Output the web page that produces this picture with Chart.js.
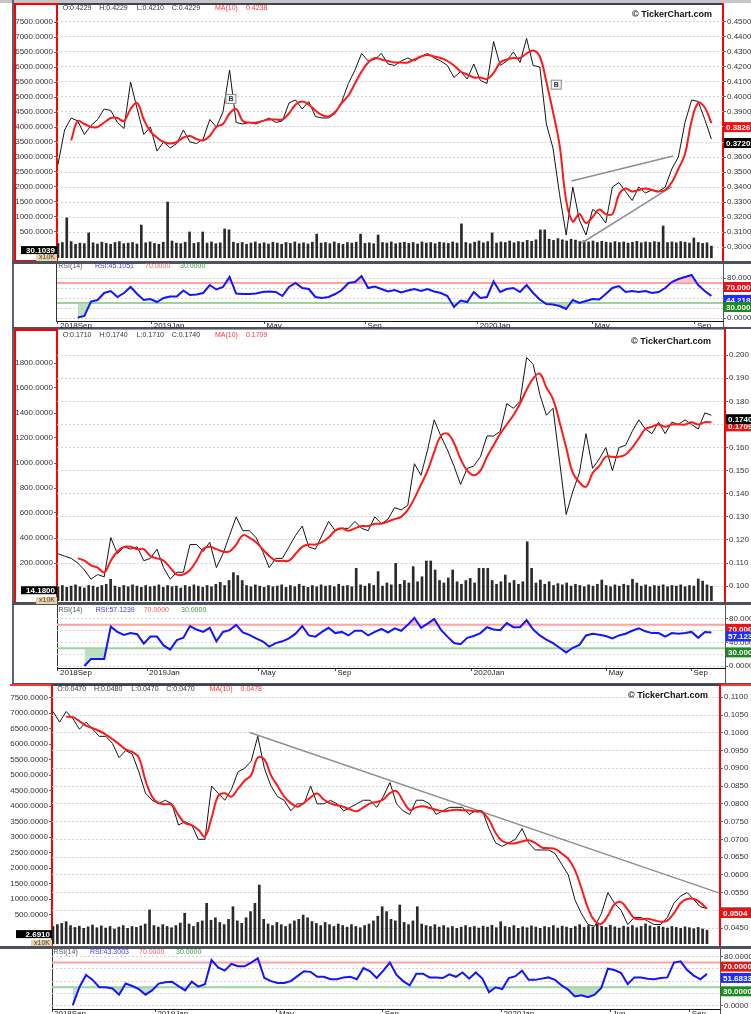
<!DOCTYPE html>
<html>
<head>
<meta charset="utf-8">
<script src="https://cdn.jsdelivr.net/npm/chart.js@4.4.1/dist/chart.umd.min.js"></script>
<style>
  body { margin: 0; background: #fff; }
  #wrap { position: relative; width: 751px; height: 1014px; overflow: hidden; background: #fff; }
  #wrap canvas { position: absolute; left: 0; }
  .ln { position: absolute; box-sizing: border-box; }
</style>
</head>
<body>
<div id="wrap">
  <!-- block 1 frame -->
  <div class="ln" style="left:0;top:0;width:751px;height:3px;background:#c5c5c5"></div>
  <div class="ln" style="left:12px;top:0;width:2px;height:329px;background:#5d6371"></div>
  <div class="ln" style="left:14px;top:3px;width:44px;height:259px;border:2px solid #f00"></div>
  <div class="ln" style="left:58px;top:3px;width:664px;height:2px;background:#3e4453"></div>
  <div class="ln" style="left:722px;top:3px;width:2px;height:259px;background:#f00"></div>
  <div class="ln" style="left:12px;top:261px;width:739px;height:3px;background:#4d5261"></div>
  <div class="ln" style="left:56px;top:264px;width:1px;height:58px;background:#333"></div>
  <div class="ln" style="left:723px;top:264px;width:1px;height:63px;background:#555"></div>
  <div class="ln" style="left:12px;top:327px;width:739px;height:2px;background:#4d5261"></div>
  <!-- block 2 frame -->
  <div class="ln" style="left:14px;top:329px;width:44px;height:275px;border:2px solid #f00"></div>
  <div class="ln" style="left:58px;top:329px;width:666px;height:1px;background:#9a9ea8"></div>
  <div class="ln" style="left:12px;top:329px;width:2px;height:355px;background:#5d6371"></div>
  <div class="ln" style="left:724px;top:329px;width:2px;height:275px;background:#f00"></div>
  <div class="ln" style="left:12px;top:602px;width:739px;height:3px;background:#4d5261"></div>
  <div class="ln" style="left:57px;top:605px;width:1px;height:63px;background:#333"></div>
  <div class="ln" style="left:725px;top:605px;width:1px;height:78px;background:#555"></div>
  <div class="ln" style="left:12px;top:683px;width:739px;height:2px;background:#4d5261"></div>
  <!-- block 3 frame -->
  <div class="ln" style="left:10px;top:684px;width:42px;height:2px;background:#f33"></div>
  <div class="ln" style="left:52px;top:684px;width:668px;height:2px;background:#3e4453"></div>
  <div class="ln" style="left:720px;top:684px;width:31px;height:2px;background:#f33"></div>
  <div class="ln" style="left:51px;top:684px;width:2px;height:262px;background:#f00"></div>
  <div class="ln" style="left:719px;top:684px;width:2px;height:262px;background:#f00"></div>
  <div class="ln" style="left:0;top:946px;width:751px;height:3px;background:#4d5261"></div>
  <div class="ln" style="left:52px;top:949px;width:1px;height:60px;background:#333"></div>
  <div class="ln" style="left:720px;top:949px;width:1px;height:65px;background:#555"></div>

  <canvas id="c1m" width="751" height="262" style="top:0px"></canvas>
  <canvas id="c1r" width="751" height="67" style="top:262px"></canvas>
  <canvas id="c2m" width="751" height="275" style="top:329px"></canvas>
  <canvas id="c2r" width="751" height="80" style="top:604px"></canvas>
  <canvas id="c3m" width="751" height="262" style="top:684px"></canvas>
  <canvas id="c3r" width="751" height="68" style="top:946px"></canvas>
</div>
<script>
// ---- stock 1 (top) ----
const price1 = [0.355,0.378,0.386,0.384,0.375,0.381,0.385,0.392,0.391,0.383,
  0.379,0.410,0.392,0.375,0.380,0.364,0.370,0.366,0.369,0.378,
  0.370,0.369,0.372,0.385,0.380,0.390,0.418,0.383,0.382,0.383,
  0.382,0.384,0.386,0.383,0.384,0.396,0.398,0.392,0.397,0.387,
  0.386,0.386,0.389,0.397,0.409,0.418,0.429,0.424,0.425,0.429,
  0.422,0.421,0.424,0.426,0.424,0.427,0.429,0.426,0.424,0.421,
  0.413,0.417,0.412,0.422,0.411,0.409,0.437,0.421,0.424,0.430,
  0.423,0.439,0.421,0.420,0.382,0.366,0.335,0.308,0.340,0.318,
  0.308,0.325,0.322,0.316,0.340,0.343,0.337,0.331,0.340,0.336,
  0.338,0.337,0.340,0.352,0.360,0.383,0.398,0.397,0.385,0.372];
const ma1 = [null,null,0.371,0.384,0.382,0.380,0.380,0.383,0.386,0.386,
  0.384,0.392,0.396,0.385,0.377,0.373,0.370,0.369,0.370,0.373,
  0.374,0.372,0.371,0.374,0.380,0.382,0.389,0.392,0.384,0.383,
  0.383,0.384,0.385,0.385,0.385,0.389,0.395,0.397,0.395,0.391,
  0.388,0.387,0.390,0.396,0.401,0.409,0.417,0.423,0.426,0.425,
  0.424,0.423,0.423,0.423,0.425,0.427,0.428,0.427,0.426,0.424,
  0.421,0.417,0.415,0.413,0.413,0.412,0.416,0.423,0.425,0.426,
  0.426,0.429,0.431,0.427,0.410,0.390,0.368,0.331,0.317,0.322,
  0.316,0.320,0.325,0.322,0.322,0.335,0.339,0.337,0.338,0.339,
  0.338,0.337,0.338,0.343,0.352,0.362,0.384,0.396,0.393,0.3826];
const rsi1 = [null,null,null,1,4,33,36,50,54,42,
  50,62,48,36,38,32,40,43,43,55,
  46,47,50,66,57,62,82,49,48,48,
  49,52,53,52,44,62,70,60,58,42,
  40,42,48,56,70,72,84,60,63,58,
  53,56,51,55,58,54,58,53,50,44,
  22,35,32,52,40,42,73,52,58,60,
  52,66,50,37,28,27,24,18,36,30,
  34,38,37,48,60,64,52,54,52,54,
  50,52,60,72,78,82,86,66,54,44.2];
const vol1 = [120,150,970,180,90,130,110,470,140,100,
  160,120,90,150,180,110,130,150,100,730,
  140,170,120,90,160,1500,200,130,110,160,
  500,120,150,500,130,170,110,140,600,570,
  160,120,150,90,130,170,110,140,100,160,
  130,90,150,120,170,110,140,100,160,430,
  130,150,110,170,120,90,150,130,160,430,
  120,140,110,400,150,130,170,110,140,160,
  120,150,100,170,130,150,110,160,140,120,
  170,130,770,150,110,160,200,140,180,470,
  130,170,150,200,140,180,160,220,190,240,
  570,570,260,220,280,240,200,260,230,180,
  210,170,200,150,190,160,140,180,150,170,
  130,160,190,140,170,150,180,160,700,150,
  170,140,180,160,130,300,150,120,140,30.1];
const months1 = ['2018Sep','2019Jan','May','Sep','2020Jan','May','Sep'];
const monthPos1 = [0, 14.2, 31.3, 46.6, 63.6, 81.0, 96.5];
const volTicks1 = [500,1000,1500,2000,2500,3000,3500,4000,4500,5000,5500,6000,6500,7000,7500];
const priceTicks1 = [0.30,0.31,0.32,0.33,0.34,0.35,0.36,0.37,0.38,0.39,0.40,0.41,0.42,0.43,0.44,0.45];
const trendUp1 = [[77.8,0.344],[93.2,0.3607]];
const trendLow1 = [[79.3,0.3025],[93.0,0.3403]];
const buys1 = [[26.2,0.3987],[75.5,0.4082]];

// ---- stock 2 (middle) ----
const price2 = [0.114,0.113,0.112,0.110,0.107,0.103,0.105,0.104,0.121,0.114,
  0.117,0.116,0.117,0.111,0.112,0.116,0.108,0.103,0.106,0.106,
  0.118,0.118,0.115,0.119,0.108,0.114,0.122,0.130,0.124,0.124,
  0.121,0.115,0.108,0.112,0.112,0.117,0.122,0.126,0.117,0.116,
  0.122,0.128,0.124,0.125,0.125,0.128,0.125,0.124,0.130,0.127,
  0.129,0.134,0.133,0.135,0.153,0.148,0.159,0.172,0.165,0.159,
  0.152,0.144,0.151,0.152,0.156,0.165,0.165,0.167,0.179,0.177,
  0.180,0.199,0.196,0.183,0.174,0.177,0.154,0.131,0.141,0.149,
  0.166,0.151,0.155,0.160,0.150,0.160,0.161,0.167,0.172,0.168,
  0.166,0.171,0.166,0.171,0.170,0.172,0.170,0.168,0.175,0.174];
const ma2 = [null,null,null,0.112,0.111,0.109,0.108,0.106,0.111,0.115,
  0.117,0.117,0.116,0.116,0.113,0.112,0.111,0.108,0.105,0.105,
  0.107,0.111,0.116,0.117,0.116,0.115,0.115,0.118,0.122,0.121,
  0.119,0.116,0.113,0.111,0.111,0.111,0.114,0.117,0.118,0.118,
  0.119,0.121,0.124,0.125,0.124,0.125,0.126,0.126,0.127,0.127,
  0.128,0.129,0.130,0.133,0.138,0.144,0.150,0.158,0.165,0.166,
  0.162,0.155,0.150,0.148,0.150,0.156,0.161,0.166,0.170,0.174,
  0.179,0.185,0.190,0.192,0.186,0.181,0.171,0.160,0.149,0.145,
  0.143,0.149,0.152,0.156,0.156,0.156,0.157,0.160,0.164,0.168,
  0.169,0.170,0.169,0.170,0.170,0.170,0.171,0.170,0.171,0.1709];
const rsi2 = [null,null,null,null,0,12,12,12,67,58,
  53,56,54,38,50,50,35,28,44,48,
  68,62,58,65,42,58,61,70,57,53,
  47,42,33,39,42,47,55,68,52,50,
  58,65,56,58,52,60,60,52,58,63,
  57,64,60,70,82,65,72,80,62,50,
  39,37,48,51,56,66,62,61,73,66,
  66,78,62,52,45,39,31,23,31,36,
  52,55,53,51,47,52,55,60,64,59,
  56,56,50,56,55,56,58,48,58,57.1];
const vol2 = [10,20,5,15,25,10,0,20,15,5,
  20,30,70,15,5,20,10,25,15,5,
  20,10,15,25,5,20,10,15,0,20,
  10,25,15,5,20,10,30,45,20,60,
  123,100,60,20,10,25,15,5,20,10,
  15,25,5,20,10,30,15,5,20,10,
  25,15,20,10,30,15,20,10,157,25,
  15,35,20,131,15,40,25,197,30,60,
  40,171,50,90,216,216,144,60,40,80,
  144,50,30,60,77,40,157,157,157,60,
  30,50,104,40,60,30,50,370,157,40,
  64,30,50,20,35,25,40,15,30,20,
  10,25,15,30,64,20,10,25,15,30,
  20,70,40,15,25,10,20,15,25,10,
  20,15,25,10,20,15,72,55,25,14.18];
const months2 = ['2018Sep','2019Jan','May','Sep','2020Jan','May','Sep'];
const monthPos2 = [0, 13.5, 30.4, 42.0, 62.7, 83.1, 96.0];
const volTicks2 = [200,400,600,800,1000,1200,1400,1600,1800];
const priceTicks2 = [0.10,0.11,0.12,0.13,0.14,0.15,0.16,0.17,0.18,0.19,0.20];

// ---- stock 3 (bottom) ----
const price3 = [0.106,0.103,0.106,0.104,0.101,0.103,0.101,0.099,0.099,0.097,
  0.093,0.095,0.094,0.089,0.083,0.081,0.080,0.081,0.080,0.074,
  0.075,0.074,0.070,0.070,0.085,0.083,0.081,0.084,0.089,0.090,
  0.092,0.099,0.090,0.085,0.082,0.081,0.078,0.080,0.080,0.085,
  0.080,0.080,0.081,0.080,0.078,0.079,0.080,0.081,0.081,0.079,
  0.082,0.086,0.080,0.078,0.077,0.081,0.081,0.080,0.077,0.078,
  0.079,0.079,0.079,0.077,0.078,0.078,0.073,0.069,0.068,0.069,
  0.070,0.073,0.069,0.067,0.067,0.067,0.066,0.063,0.060,0.053,
  0.049,0.046,0.0455,0.049,0.055,0.052,0.050,0.046,0.048,0.048,
  0.047,0.046,0.046,0.048,0.052,0.054,0.055,0.053,0.051,0.0505];
const ma3 = [null,null,0.1045,0.1044,0.1033,0.1020,0.1013,0.1005,0.0995,0.0982,
  0.0968,0.0953,0.0946,0.0930,0.0866,0.0820,0.0802,0.0799,0.0797,0.0768,
  0.0745,0.0740,0.0727,0.0708,0.0760,0.0822,0.0830,0.0820,0.0842,0.0865,
  0.0881,0.0930,0.0925,0.0880,0.0850,0.0820,0.0802,0.0792,0.0803,0.0818,
  0.0829,0.0812,0.0801,0.0796,0.0791,0.0784,0.0779,0.0790,0.0801,0.0805,
  0.0812,0.0830,0.0836,0.0808,0.0783,0.0790,0.0793,0.0788,0.0783,0.0779,
  0.0781,0.0783,0.0782,0.0781,0.0778,0.0776,0.0755,0.0718,0.0695,0.0689,
  0.0689,0.0694,0.0697,0.0690,0.0677,0.0675,0.0673,0.0660,0.0645,0.0614,
  0.0562,0.0505,0.0470,0.0462,0.0485,0.0517,0.0523,0.0502,0.0478,0.0475,
  0.0476,0.0472,0.0468,0.0471,0.0492,0.0520,0.0532,0.0532,0.0522,0.0504];
const rsi3 = [null,null,null,1,30,50,42,30,30,28,
  18,36,32,27,18,25,36,38,39,32,
  25,39,31,35,74,62,57,68,64,64,
  70,77,45,40,37,37,40,48,56,55,
  47,47,43,43,46,47,43,61,56,45,
  57,70,50,40,33,52,52,46,46,45,
  51,47,54,44,54,44,22,30,27,45,
  48,57,42,42,44,46,42,33,26,15,
  17,14,18,29,60,58,53,35,46,46,
  44,43,45,46,70,72,58,49,43,51.7];
const vol3 = [120,180,220,274,150,90,130,60,110,168,
  80,140,70,120,40,100,150,60,120,90,
  140,200,652,150,100,180,120,80,150,230,
  545,200,120,250,300,868,320,400,250,180,
  350,758,300,220,400,600,868,1458,350,200,
  150,250,180,120,200,300,350,490,400,280,
  220,150,250,180,120,200,150,100,180,120,
  80,150,200,300,450,758,600,350,300,813,
  250,180,300,758,200,150,120,180,100,150,
  80,120,60,100,150,90,120,70,130,100,
  160,80,274,120,90,150,60,110,80,140,
  100,60,120,90,150,70,130,100,60,120,
  180,90,150,100,200,130,90,160,110,70,
  130,100,150,80,120,200,140,90,130,100,
  70,120,90,60,110,80,50,90,40,2.69];
const months3 = ['2018Sep','2019Jan','May','Sep','2020Jan','Jun','Sep'];
const monthPos3 = [-0.15, 15.5, 33.9, 49.9, 67.9, 84.4, 96.4];
const volTicks3 = [500,1000,1500,2000,2500,3000,3500,4000,4500,5000,5500,6000,6500,7000,7500];
const priceTicks3 = [0.045,0.050,0.055,0.060,0.065,0.070,0.075,0.080,0.085,0.090,0.095,0.100,0.105,0.110];
const trend3 = [[29.8,0.1001],[100.8,0.0549]];

const rsiTicks = [0,20,40,60,80];
const rsiUpper = 70, rsiLower = 30;

const FONT = '"Liberation Sans", Arial, sans-serif';
Chart.defaults.font.family = FONT;
Chart.defaults.font.size = 8;
Chart.defaults.color = '#222';

const pts = (arr, step = 1) => arr.map((v, i) => ({x: i * step, y: v}));
const fixed = n => v => Number(v).toFixed(n);

// overlay texts, value tags and signal boxes
const deco = {
  id: 'deco',
  afterDraw(chart, args, o) {
    const ctx = chart.ctx, a = chart.chartArea, sc = chart.scales;
    ctx.save();
    ctx.textBaseline = 'middle';
    (o.texts || []).forEach(t => {
      ctx.font = t.font || ('7px ' + FONT);
      ctx.fillStyle = t.color || '#333';
      ctx.textAlign = t.align || 'left';
      ctx.fillText(t.text, t.x, t.y);
    });
    (o.marks || []).forEach(m => {
      const x = sc.x.getPixelForValue(m[0]), y = sc.yp.getPixelForValue(m[1]);
      ctx.fillStyle = '#f2f2f2'; ctx.fillRect(x - 5, y - 4.5, 10, 9);
      ctx.strokeStyle = '#8c8c8c'; ctx.lineWidth = 1; ctx.strokeRect(x - 5, y - 4.5, 10, 9);
      ctx.fillStyle = '#333'; ctx.font = 'bold 7px ' + FONT; ctx.textAlign = 'center';
      ctx.fillText('B', x, y + 0.5);
    });
    ctx.font = 'bold 8px ' + FONT; ctx.textAlign = 'left';
    (o.tags || []).forEach(t => {
      const y = sc[t.axis].getPixelForValue(t.value);
      ctx.fillStyle = t.bg; ctx.fillRect(a.right + 1, y - 1, 40, 10);
      ctx.fillStyle = '#fff'; ctx.fillText(t.text, a.right + 3, y + 4.5);
    });
    if (o.vol) {
      const y = sc.yv.getPixelForValue(o.vol.value);
      ctx.fillStyle = '#000'; ctx.fillRect(a.left - 36, y, 36, 8);
      ctx.fillStyle = '#fff'; ctx.textAlign = 'right'; ctx.fillText(o.vol.text, a.left - 2, y + 4.5);
      ctx.fillStyle = '#e9d3a6'; ctx.fillRect(a.left - 21, a.bottom - 4, 21, 7);
      ctx.fillStyle = '#444'; ctx.font = '7px ' + FONT; ctx.fillText('x10K', a.left - 2, a.bottom - 0.5);
    }
    ctx.restore();
  }
};

function header(x0, y, o, h, l, c, ma) {
  return [
    {text: 'O:' + o, x: x0, y: y}, {text: 'H:' + h, x: x0 + 36.6, y: y},
    {text: 'L:' + l, x: x0 + 74, y: y}, {text: 'C:' + c, x: x0 + 109, y: y},
    {text: 'MA(10)', x: x0 + 152.3, y: y, color: '#f33'}, {text: ma, x: x0 + 183.3, y: y, color: '#f33'}
  ];
}

function makeMain(id, g, price, ma, vol, o) {
  const vstep = (price.length - 1) / (vol.length - 1);
  const datasets = [
    {data: pts(ma), borderColor: '#ff1a1a', borderWidth: 2, pointRadius: 0, tension: 0.4, yAxisID: 'yp'},
    {data: pts(price), borderColor: '#151515', borderWidth: 1, pointRadius: 0, yAxisID: 'yp'}
  ];
  (o.trends || []).forEach(t => datasets.push({
    data: t.map(p => ({x: p[0], y: p[1]})), borderColor: '#8f8f8f', borderWidth: 1.5, pointRadius: 0, yAxisID: 'yp'
  }));
  datasets.push({type: 'bar', data: pts(vol, vstep), backgroundColor: '#2a2a2a', barThickness: 2, base: g.vmin, yAxisID: 'yv'});

  new Chart(document.getElementById(id), {
    type: 'line',
    data: {datasets},
    options: {
      responsive: false, animation: false, events: [],
      layout: {padding: {top: g.top, bottom: g.h - g.bottom, left: 0, right: 0}},
      plugins: {legend: {display: false}, tooltip: {enabled: false}, deco: o.deco},
      scales: {
        x: {type: 'linear', display: false, offset: false, grid: {offset: false}, min: g.xmin, max: g.xmax},
        yv: {
          position: 'left', min: g.vmin, max: g.vmax,
          afterBuildTicks: s => { s.ticks = o.volTicks.map(v => ({value: v})); },
          afterFit: s => { s.width = g.left; s.paddingTop = 0; s.paddingBottom = 0; },
          grid: {drawOnChartArea: false, tickLength: 3, color: '#666'},
          border: {display: false},
          ticks: {padding: 1, color: '#333', callback: fixed(4)}
        },
        yp: {
          position: 'right', min: g.pmin, max: g.pmax,
          afterBuildTicks: s => { s.ticks = o.priceTicks.map(v => ({value: v})); },
          afterFit: s => { s.width = 751 - g.right; s.paddingTop = 0; s.paddingBottom = 0; },
          grid: {color: '#d2d2d2', tickLength: 3, tickColor: '#666'},
          border: {display: false, dash: [2, 2]},
          ticks: {padding: 1, color: '#333', callback: fixed(o.dec)}
        }
      }
    },
    plugins: [deco]
  });
}

function makeRsi(id, g, rsi, o) {
  const lvl = v => [{x: g.xmin, y: v}, {x: g.xmax, y: v}];
  new Chart(document.getElementById(id), {
    type: 'line',
    data: {datasets: [
      {data: pts(rsi), borderColor: '#1414ff', borderWidth: 2, pointRadius: 0},
      {data: pts(rsi), borderWidth: 0, pointRadius: 0,
        fill: {target: {value: rsiUpper}, above: 'rgba(246,176,176,0.75)', below: 'rgba(0,0,0,0)'}},
      {data: pts(rsi), borderWidth: 0, pointRadius: 0,
        fill: {target: {value: rsiLower}, above: 'rgba(0,0,0,0)', below: 'rgba(168,214,168,0.75)'}},
      {data: lvl(rsiUpper), borderColor: '#ffa0a0', borderWidth: 2, pointRadius: 0},
      {data: lvl(rsiLower), borderColor: '#9bd39b', borderWidth: 2, pointRadius: 0}
    ]},
    options: {
      responsive: false, animation: false, events: [],
      layout: {padding: {top: g.top, left: g.left, right: 0, bottom: 0}},
      plugins: {legend: {display: false}, tooltip: {enabled: false}, deco: o.deco},
      scales: {
        x: {
          type: 'linear', min: g.xmin, max: g.xmax, offset: false,
          afterBuildTicks: s => { s.ticks = o.monthPos.map(v => ({value: v})); },
          afterFit: s => { s.height = g.h - g.bottom; s.paddingLeft = 0; s.paddingRight = 0; },
          grid: {drawOnChartArea: false, tickLength: 3, color: '#444'},
          border: {display: true, color: '#111', width: 1},
          ticks: {align: 'start', maxRotation: 0, autoSkip: false, padding: -3, labelOffset: 2,
            color: '#222', callback: (v, i) => o.months[i]}
        },
        y: {
          position: 'right', min: g.rmin, max: g.rmax,
          afterBuildTicks: s => { s.ticks = rsiTicks.map(v => ({value: v})); },
          afterFit: s => { s.width = 751 - g.right; s.paddingTop = 0; s.paddingBottom = 0; },
          grid: {color: '#d2d2d2', tickLength: 3, tickColor: '#666'},
          border: {display: false, dash: [2, 2]},
          ticks: {padding: 1, color: '#333', callback: fixed(4)}
        }
      }
    },
    plugins: [deco]
  });
}

function rsiLegend(x, y, val) {
  return [
    {text: 'RSI(14)', x: x[0], y: y, color: '#555'},
    {text: 'RSI:' + val, x: x[1], y: y, color: '#3a3aff'},
    {text: '70.0000', x: x[2], y: y, color: '#ff5a5a'},
    {text: '30.0000', x: x[3], y: y, color: '#3a9a3a'}
  ];
}
const rsiTags = (last, text) => [
  {axis: 'y', value: rsiUpper, text: '70.0000', bg: '#e8141b'},
  {axis: 'y', value: last, text: text, bg: '#1f2bff'},
  {axis: 'y', value: rsiLower, text: '30.0000', bg: '#1b8a22'}
];
const tickerText = (x, y) => ({text: '\u00a9 TickerChart.com', x: x, y: y, align: 'right', color: '#111', font: 'bold 9px ' + FONT});

// stock 1
makeMain('c1m', {h: 262, left: 57, right: 723, top: 5, bottom: 258, xmin: -0.15, xmax: 100.76,
    pmin: 0.29267, pmax: 0.46133, vmin: -367, vmax: 8067},
  price1, ma1, vol1, {
    volTicks: volTicks1, priceTicks: priceTicks1, dec: 4, trends: [trendUp1, trendLow1],
    deco: {
      texts: header(62.7, 8.3, '0.4229', '0.4229', '0.4210', '0.4229', '0.4238').concat([tickerText(712, 15)]),
      marks: buys1,
      tags: [{axis: 'yp', value: price1[price1.length - 1], text: '0.3720', bg: '#000'},
             {axis: 'yp', value: ma1[ma1.length - 1], text: '0.3826', bg: '#ee1111'}],
      vol: {value: vol1[vol1.length - 1], text: '30.1039'}
    }
  });
makeRsi('c1r', {h: 67, left: 57, right: 723, top: 2, bottom: 59, xmin: -0.15, xmax: 100.76, rmin: -6, rmax: 108},
  rsi1, {months: months1, monthPos: monthPos1,
    deco: {texts: rsiLegend([58.3, 95, 145, 180], 4, '45.1051'), tags: rsiTags(rsi1[rsi1.length - 1], '44.2189')}});

// stock 2
makeMain('c2m', {h: 275, left: 57, right: 725, top: 4, bottom: 272, xmin: -0.15, xmax: 101.06,
    pmin: 0.09355, pmax: 0.2096, vmin: -104, vmax: 2040},
  price2, ma2, vol2, {
    volTicks: volTicks2, priceTicks: priceTicks2, dec: 3,
    deco: {
      texts: header(62.7, 5.7, '0.1710', '0.1740', '0.1710', '0.1740', '0.1709').concat([tickerText(711, 12.7)]),
      tags: [{axis: 'yp', value: ma2[ma2.length - 1], text: '0.1709', bg: '#ee1111'},
             {axis: 'yp', value: price2[price2.length - 1], text: '0.1740', bg: '#000'}],
      vol: {value: vol2[vol2.length - 1], text: '14.1800'}
    }
  });
makeRsi('c2r', {h: 80, left: 57, right: 725, top: 2, bottom: 64, xmin: -0.15, xmax: 101.06, rmin: -3.4, rmax: 102.1},
  rsi2, {months: months2, monthPos: monthPos2,
    deco: {texts: rsiLegend([58.4, 95.8, 143.7, 181], 6, '57.1239'), tags: rsiTags(rsi2[rsi2.length - 1], '57.1239')}});

// stock 3
makeMain('c3m', {h: 262, left: 52, right: 720, top: 2, bottom: 260, xmin: -0.15, xmax: 100.97,
    pmin: 0.04051, pmax: 0.11318, vmin: -445, vmax: 7877},
  price3, ma3, vol3, {
    volTicks: volTicks3, priceTicks: priceTicks3, dec: 4, trends: [trend3],
    deco: {
      texts: header(57.3, 5, '0.0470', '0.0480', '0.0470', '0.0470', '0.0478').concat([tickerText(708, 12)]),
      tags: [{axis: 'yp', value: price3[price3.length - 1], text: '0.0505', bg: '#000'},
             {axis: 'yp', value: ma3[ma3.length - 1], text: '0.0504', bg: '#ee1111'}],
      vol: {value: vol3[vol3.length - 1], text: '2.6910'}
    }
  });
makeRsi('c3r', {h: 68, left: 52, right: 720, top: 4, bottom: 63, xmin: -0.15, xmax: 100.97, rmin: -5.2, rmax: 90.4},
  rsi3, {months: months3, monthPos: monthPos3,
    deco: {texts: rsiLegend([53.6, 90, 139, 176], 5.7, '43.3003'), tags: rsiTags(rsi3[rsi3.length - 1], '51.6833')}});
</script>
</body>
</html>
